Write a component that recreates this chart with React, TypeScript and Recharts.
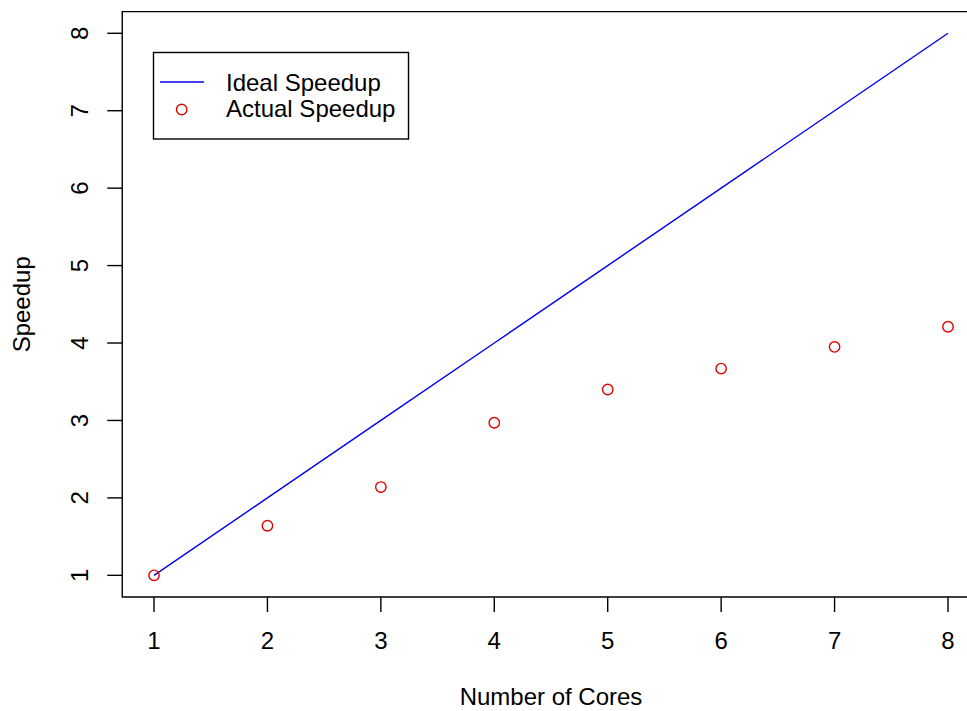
import React from 'react';
import { ComposedChart, Line, Scatter, XAxis, YAxis, ReferenceArea } from 'recharts';

const cores = [1, 2, 3, 4, 5, 6, 7, 8];
const idealSpeedup = [1, 2, 3, 4, 5, 6, 7, 8];
const actualSpeedup = [1.0, 1.64, 2.14, 2.97, 3.4, 3.67, 3.95, 4.21];
const xTicks = [1, 2, 3, 4, 5, 6, 7, 8];
const yTicks = [1, 2, 3, 4, 5, 6, 7, 8];
const seriesNames = ['Ideal Speedup', 'Actual Speedup'];

const data = cores.map((c, i) => ({ cores: c, ideal: idealSpeedup[i], actual: actualSpeedup[i] }));

// R-style 4% padding on both axes
const pad = (lo: number, hi: number) => [lo - (hi - lo) * 0.04, hi + (hi - lo) * 0.04];
const xDomain = pad(1, 8);
const yDomain = pad(1, 8);

const FONT = '"Liberation Sans", Arial, Helvetica, sans-serif';
const BLUE = '#0000F0';
const RED = '#E00000';

function YTick({ x, y, payload }: any) {
  return (
    <text
      x={x}
      y={y}
      transform={`rotate(-90 ${x} ${y})`}
      textAnchor="middle"
      fontSize={24}
      fontFamily={FONT}
      fill="#000"
    >
      {payload.value}
    </text>
  );
}

function XTitle({ viewBox }: any) {
  const cx = viewBox.x + viewBox.width / 2;
  return (
    <text x={cx} y={viewBox.y + 108} textAnchor="middle" fontSize={24} fontFamily={FONT} fill="#000">
      Number of Cores
    </text>
  );
}

function YTitle({ viewBox }: any) {
  const x = viewBox.x + viewBox.width - 92;
  const y = viewBox.y + viewBox.height / 2;
  return (
    <text x={x} y={y} transform={`rotate(-90 ${x} ${y})`} textAnchor="middle" fontSize={24} fontFamily={FONT} fill="#000">
      Speedup
    </text>
  );
}

function OpenCircle({ cx, cy }: any) {
  return <circle cx={cx} cy={cy} r={5.2} fill="none" stroke={RED} strokeWidth={1.4} />;
}

function LegendBox() {
  return (
    <svg
      width={256}
      height={88}
      style={{ position: 'absolute', left: 153, top: 52, overflow: 'visible' }}
    >
      <rect x={0.5} y={0.5} width={255} height={86.5} fill="#fff" stroke="#000" strokeWidth={1.4} />
      <line x1={7} y1={30} x2={51} y2={30} stroke={BLUE} strokeWidth={1.4} />
      <circle cx={28.7} cy={57.5} r={5.2} fill="none" stroke={RED} strokeWidth={1.4} />
      <text x={73} y={38.5} fontSize={24} fontFamily={FONT} fill="#000">{seriesNames[0]}</text>
      <text x={73} y={65} fontSize={24} fontFamily={FONT} fill="#000">{seriesNames[1]}</text>
    </svg>
  );
}

export default function App() {
  return (
    <div
      style={{
        position: 'absolute',
        left: 0,
        top: 0,
        width: 967,
        height: 711,
        overflow: 'hidden',
        background: '#fff',
      }}
    >
      <ComposedChart
        width={1000}
        height={711}
        data={data}
        margin={{ top: 11.6, right: 20.24, bottom: 0, left: 8.24 }}
      >
        <XAxis
          dataKey="cores"
          type="number"
          domain={xDomain}
          allowDataOverflow
          ticks={xTicks}
          interval={0}
          height={114}
          axisLine={false}
          tickSize={15}
          tickMargin={20}
          tickLine={{ stroke: '#000', strokeWidth: 1.4 }}
          tick={{ fill: '#000', fontSize: 24, fontFamily: FONT }}
          label={<XTitle />}
        />
        <YAxis
          type="number"
          domain={yDomain}
          allowDataOverflow
          ticks={yTicks}
          interval={0}
          width={114}
          axisLine={false}
          tickSize={15}
          tickMargin={19}
          tickLine={{ stroke: '#000', strokeWidth: 1.4 }}
          tick={<YTick />}
          label={<YTitle />}
        />
        <ReferenceArea
          x1={xDomain[0]}
          x2={xDomain[1]}
          y1={yDomain[0]}
          y2={yDomain[1]}
          fill="none"
          fillOpacity={0}
          stroke="#000"
          strokeWidth={1.4}
          ifOverflow="visible"
        />
        <Line
          dataKey="ideal"
          type="linear"
          stroke={BLUE}
          strokeWidth={1.4}
          dot={false}
          activeDot={false}
          isAnimationActive={false}
        />
        <Scatter dataKey="actual" shape={<OpenCircle />} isAnimationActive={false} />
      </ComposedChart>
      <LegendBox />
    </div>
  );
}
